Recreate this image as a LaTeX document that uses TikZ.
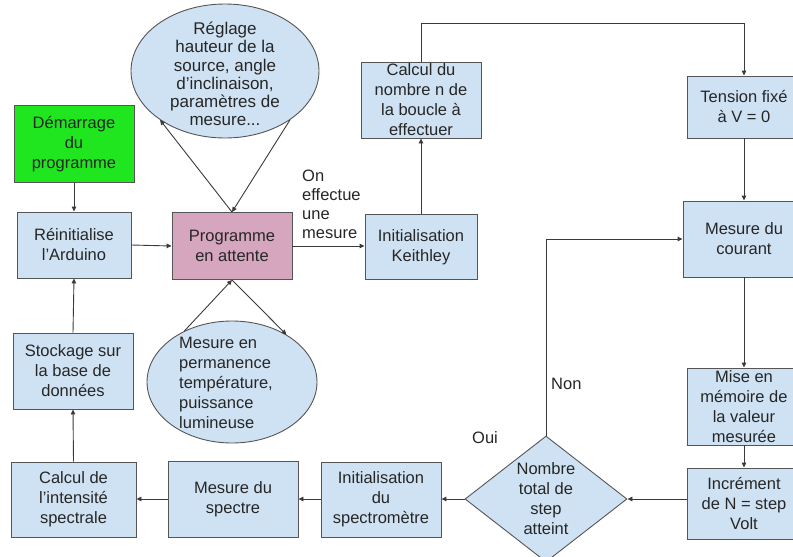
\documentclass[tikz,border=0pt]{standalone}
\usepackage{fontspec}
\setmainfont{Liberation Sans}
\usetikzlibrary{shapes.geometric,arrows.meta}

\definecolor{boxblue}{HTML}{CFE2F3}
\definecolor{startgreen}{HTML}{1FE61F}
\definecolor{waitpink}{HTML}{D5A6BD}
\definecolor{edgegray}{HTML}{555555}
\definecolor{wiregray}{HTML}{3A3A3A}
\definecolor{inkgray}{HTML}{262626}

\begin{document}
\begin{tikzpicture}[x=1pt,y=-1pt,
  stepbox/.style={draw=edgegray, line width=0.9pt, fill=boxblue, align=center,
    inner sep=0pt, text=inkgray, font=\fontsize{16.5}{20}\selectfont},
  bubble/.style={ellipse, draw=edgegray, line width=0.9pt, fill=boxblue, inner sep=0pt},
  decision/.style={diamond, draw=edgegray, line width=0.9pt, fill=boxblue, inner sep=0pt,
    aspect=1.38, align=center, text=inkgray, font=\fontsize{16.5}{20}\selectfont},
  arr/.style={draw=wiregray, line width=0.9pt, -{Triangle[length=5pt,width=4.5pt]}},
  note/.style={inner sep=0pt, text=inkgray, align=left, font=\fontsize{16.5}{19}\selectfont}]

\useasboundingbox (0,0) rectangle (793,557);
\clip (0,0) rectangle (793,557);

% left column
\node[stepbox, fill=startgreen, minimum width=120pt, minimum height=77pt] (dem) at (74,144) {Démarrage\\du\\programme};
\node[stepbox, minimum width=114pt, minimum height=66pt] (rei) at (74,245) {Réinitialise\\l’Arduino};
\node[stepbox, minimum width=120pt, minimum height=76pt] (stock) at (73,371) {Stockage sur\\la base de\\données};
\node[stepbox, minimum width=125pt, minimum height=75pt] (intens) at (73.5,499.5) {Calcul de\\l’intensité\\spectrale};

% waiting state and its two side bubbles
\node[stepbox, fill=waitpink, minimum width=120pt, minimum height=67pt] (prog) at (232,246) {Programme\\en attente};
\node[bubble, minimum width=188pt, minimum height=134pt] (reglage) at (225,71) {};
\node[inner sep=0pt, align=center, text=inkgray, font=\fontsize{17}{18.3}\selectfont] at (225,74)
  {Réglage\\hauteur de la\\source, angle\\d’inclinaison,\\paramètres de\\mesure...};
\node[bubble, minimum width=170pt, minimum height=122pt] (perm) at (232,382) {};
\node[note, font=\fontsize{16.5}{20}\selectfont] at (226,383)
  {Mesure en\\permanence\\température,\\puissance\\lumineuse};

% Keithley branch
\node[stepbox, minimum width=112pt, minimum height=65pt] (keith) at (421,247) {Initialisation\\Keithley};
\node[stepbox, minimum width=120pt, minimum height=76pt] (calc) at (421,100) {Calcul du\\nombre n de\\la boucle à\\effectuer};

% right column
\node[stepbox, minimum width=114pt, minimum height=62pt] (tension) at (744,107) {Tension fixé\\à V = 0};
\node[stepbox, minimum width=122pt, minimum height=76pt] (courant) at (744,239) {Mesure du\\courant};
\node[stepbox, minimum width=114pt, minimum height=77pt] (mise) at (744,406.5) {Mise en\\mémoire de\\la valeur\\mesurée};
\node[stepbox, minimum width=114pt, minimum height=71pt] (incr) at (744,503.5) {Incrément\\de N = step\\Volt};

% decision and bottom row
\node[decision, minimum width=162pt, minimum height=126pt] (dia) at (546,499) {Nombre\\total de\\step\\atteint};
\node[stepbox, minimum width=120pt, minimum height=75pt] (specinit) at (381,499.5) {Initialisation\\du\\spectromètre};
\node[stepbox, minimum width=130pt, minimum height=76pt] (spectre) at (233,499) {Mesure du\\spectre};

% labels (base of a multi-line node is the baseline of its last line)
\node[note, anchor=base west] (onlbl) at (302,238) {On\\effectue\\une\\mesure};
\node[note, anchor=base west] (nonlbl) at (551,389) {Non};
\node[note] (ouilbl) at (485,438) {Oui};

% connectors
\draw[arr] (dem.south) -- (rei.north);
\draw[arr] (rei.east) -- (prog.west);
\draw[arr] (prog.east) -- (keith.west |- prog.east);
\draw[arr] (prog.north) -- (reglage.217);
\draw[arr] (reglage.323) -- (prog.north);
\draw[arr] (perm.133) -- (prog.south);
\draw[arr] (prog.south) -- (perm.41);
\draw[arr] (keith.north) -- (calc.south);
\draw[arr] (calc.north) -- ++(0,-38) -| (tension.north);
\draw[arr] (tension.south) -- (courant.north);
\draw[arr] (courant.south) -- (mise.north);
\draw[arr] (mise.south) -- (incr.north);
\draw[arr] (incr.west |- dia.east) -- (dia.east);
\draw[arr] (dia.north) |- (courant.west);
\draw[arr] (dia.west) -- (specinit.east |- dia.west);
\draw[arr] (specinit.west |- spectre.east) -- (spectre.east);
\draw[arr] (spectre.west) -- (intens.east |- spectre.west);
\draw[arr] (intens.north) -- (stock.south);
\draw[arr] (stock.north) -- (rei.south);

\end{tikzpicture}
\end{document}
